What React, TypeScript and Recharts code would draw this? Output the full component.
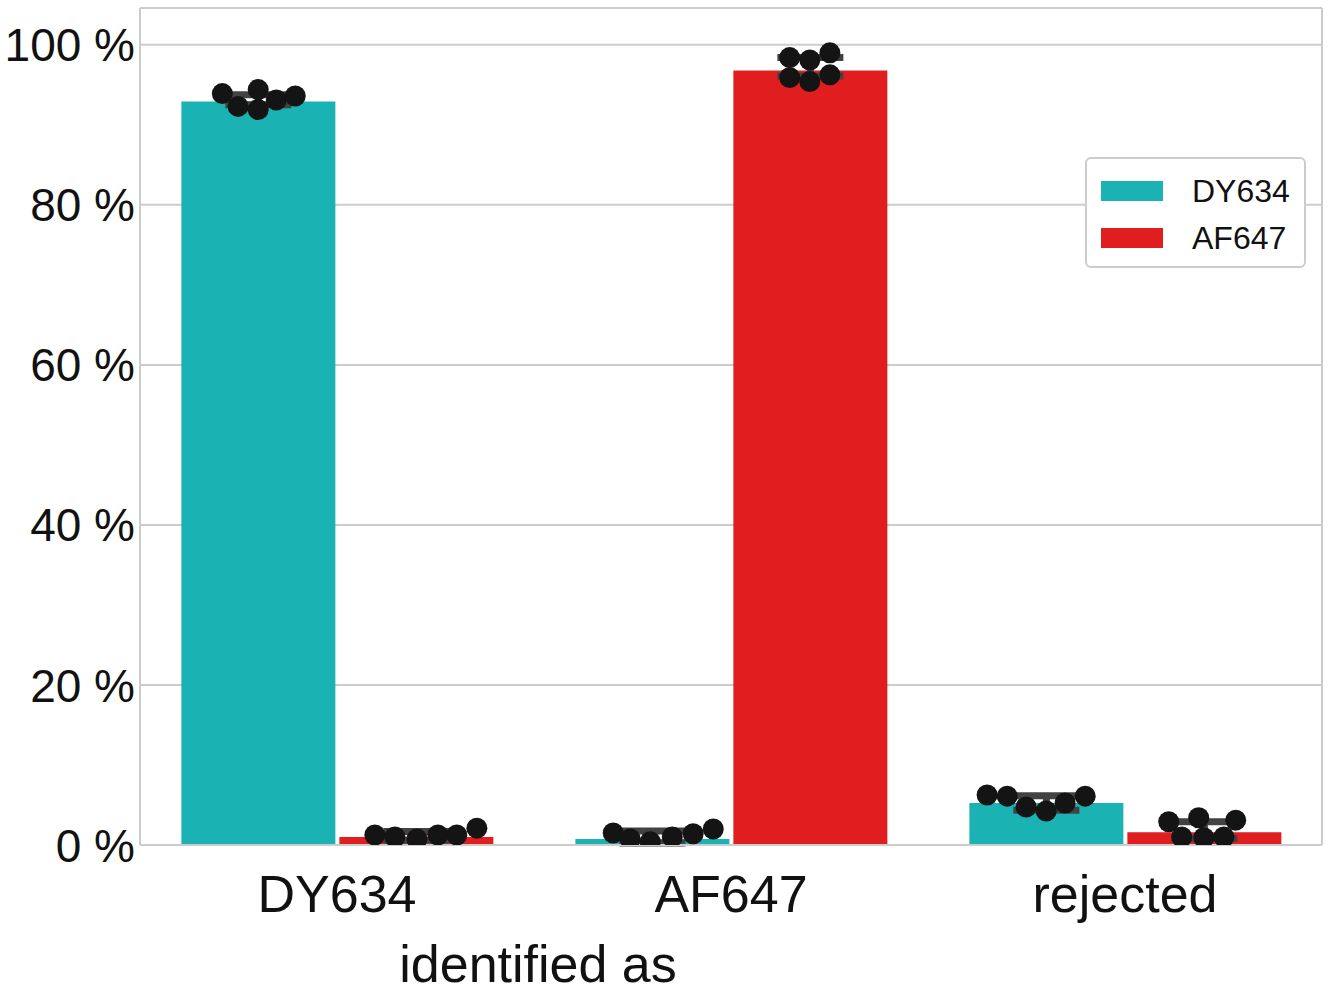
import {
  Bar,
  CartesianGrid,
  ComposedChart,
  ErrorBar,
  Legend,
  ReferenceLine,
  Scatter,
  XAxis,
  YAxis,
} from "recharts";

const categories = ["DY634", "AF647", "rejected"];
const seriesNames = ["DY634", "AF647"];
const seriesColors = ["#1bb2b4", "#e01e1f"];

// bar heights (mean %) per category
const dy634Mean = [92.9, 0.75, 5.25];
const af647Mean = [1.0, 96.8, 1.6];

// error bars: [minus, plus]
const dy634Err = [[0.4, 0.85], [0.5, 1.0], [0.9, 0.9]];
const af647Err = [[0.4, 0.7], [0.7, 1.6], [0.8, 1.3]];

// individual measurements (stripplot) and their jitter in category units
const dy634Dots = [
  [93.9, 92.3, 91.9, 94.4, 93.1, 93.6],
  [1.5, 0.75, 0.4, 1.0, 1.4, 2.0],
  [6.25, 6.1, 4.75, 4.25, 5.25, 6.1],
];
const dy634Jitter = [
  [-0.091, -0.051, 0, 0, 0.046, 0.094],
  [-0.099, -0.056, -0.005, 0.051, 0.104, 0.155],
  [-0.15, -0.099, -0.051, 0, 0.048, 0.099],
];
const af647Dots = [
  [1.25, 1.0, 0.75, 1.25, 1.25, 2.1],
  [98.4, 98.1, 99.0, 95.9, 95.4, 96.25],
  [2.9, 3.4, 3.1, 1.0, 0.9, 1.0],
];
const af647Jitter = [
  [-0.104, -0.053, 0.003, 0.056, 0.104, 0.155],
  [-0.051, 0, 0.051, -0.051, 0, 0.051],
  [-0.089, -0.013, 0.081, -0.056, 0, 0.051],
];

const yTicks = [0, 20, 40, 60, 80, 100];
const Y_MAX = 104.6;
const HUE_OFFSET = 0.2;

const FONT = '"Liberation Sans", Arial, Helvetica, sans-serif';
const TEXT = "#111111";
const GRID = "#cccccc";

const rows = categories.map((name, i) => ({
  name,
  dy634: dy634Mean[i],
  af647: af647Mean[i],
  dy634Err: dy634Err[i],
  af647Err: af647Err[i],
}));

function toPoints(dots: number[][], jitter: number[][], offset: number) {
  const pts: { x: number; y: number }[] = [];
  dots.forEach((vals, ci) => {
    vals.forEach((v, j) => {
      pts.push({ x: ci + offset + jitter[ci][j], y: v });
    });
  });
  return pts;
}

const dy634Points = toPoints(dy634Dots, dy634Jitter, -HUE_OFFSET);
const af647Points = toPoints(af647Dots, af647Jitter, HUE_OFFSET);

function Dot(props: any) {
  const { cx, cy } = props;
  if (cx == null || cy == null) return null;
  return <circle cx={cx} cy={cy} r={10.5} fill="#141414" />;
}

function XTick({ x, y, payload }: any) {
  return (
    <text x={x} y={y} dy={67} textAnchor="middle" fontSize={52} fontFamily={FONT} fill={TEXT}>
      {payload.value}
    </text>
  );
}

function YTick({ x, y, payload }: any) {
  return (
    <text x={x} y={y} dy="0.36em" textAnchor="end" fontSize={46} fontFamily={FONT} fill={TEXT}>
      {`${payload.value} %`}
    </text>
  );
}

function LegendBox() {
  return (
    <div
      style={{
        width: 221,
        height: 111,
        border: `2px solid ${GRID}`,
        borderRadius: 6,
        background: "#fff",
        boxSizing: "border-box",
        position: "relative",
        fontFamily: FONT,
        fontSize: 32,
        color: TEXT,
      }}
    >
      {seriesNames.map((name, i) => (
        <div
          key={name}
          style={{
            position: "absolute",
            left: 14,
            top: 11 + i * 47,
            height: 42,
            display: "flex",
            alignItems: "center",
          }}
        >
          <span style={{ width: 62, height: 20, background: seriesColors[i], display: "inline-block" }} />
          <span style={{ marginLeft: 29, lineHeight: 1 }}>{name}</span>
        </div>
      ))}
    </div>
  );
}

export default function App() {
  return (
    <div style={{ position: "absolute", left: 0, top: 0, background: "#fff" }}>
      <ComposedChart
        width={1334}
        height={994}
        data={rows}
        margin={{ top: 8, right: 12, bottom: 89, left: 10 }}
        barCategoryGap="10.5%"
        barGap={4}
      >
        <CartesianGrid
          xAxisId="cat"
          stroke={GRID}
          strokeWidth={2}
          verticalCoordinatesGenerator={({ offset }: any) => [offset.left, offset.left + offset.width]}
        />
        <ReferenceLine xAxisId="cat" y={Y_MAX} stroke={GRID} strokeWidth={2} />
        <XAxis
          xAxisId="cat"
          dataKey="name"
          height={60}
          tickSize={0}
          tickMargin={0}
          axisLine={{ stroke: GRID, strokeWidth: 2 }}
          tick={<XTick />}
          interval={0}
          label={{
            content: () => (
              <text x={538} y={982} textAnchor="middle" fontSize={52} fontFamily={FONT} fill={TEXT}>
                identified as
              </text>
            ),
          }}
        />
        <XAxis xAxisId="num" type="number" dataKey="x" domain={[-0.5, 2.5]} allowDataOverflow hide />
        <YAxis
          width={130}
          domain={[0, Y_MAX]}
          ticks={yTicks}
          allowDataOverflow
          axisLine={false}
          tickSize={0}
          tickMargin={5}
          tick={<YTick />}
        />
        <Bar xAxisId="cat" dataKey="dy634" fill={seriesColors[0]} isAnimationActive={false}>
          <ErrorBar dataKey="dy634Err" width={33} strokeWidth={7} stroke="#424242" direction="y" />
        </Bar>
        <Bar xAxisId="cat" dataKey="af647" fill={seriesColors[1]} isAnimationActive={false}>
          <ErrorBar dataKey="af647Err" width={33} strokeWidth={7} stroke="#424242" direction="y" />
        </Bar>
        <Scatter xAxisId="num" data={dy634Points} dataKey="y" shape={<Dot />} isAnimationActive={false} />
        <Scatter xAxisId="num" data={af647Points} dataKey="y" shape={<Dot />} isAnimationActive={false} />
        <Legend
          verticalAlign="middle"
          align="center"
          layout="horizontal"
          content={<LegendBox />}
          wrapperStyle={{ left: 1085, top: 157, width: 221, height: 111 }}
        />
      </ComposedChart>
    </div>
  );
}
